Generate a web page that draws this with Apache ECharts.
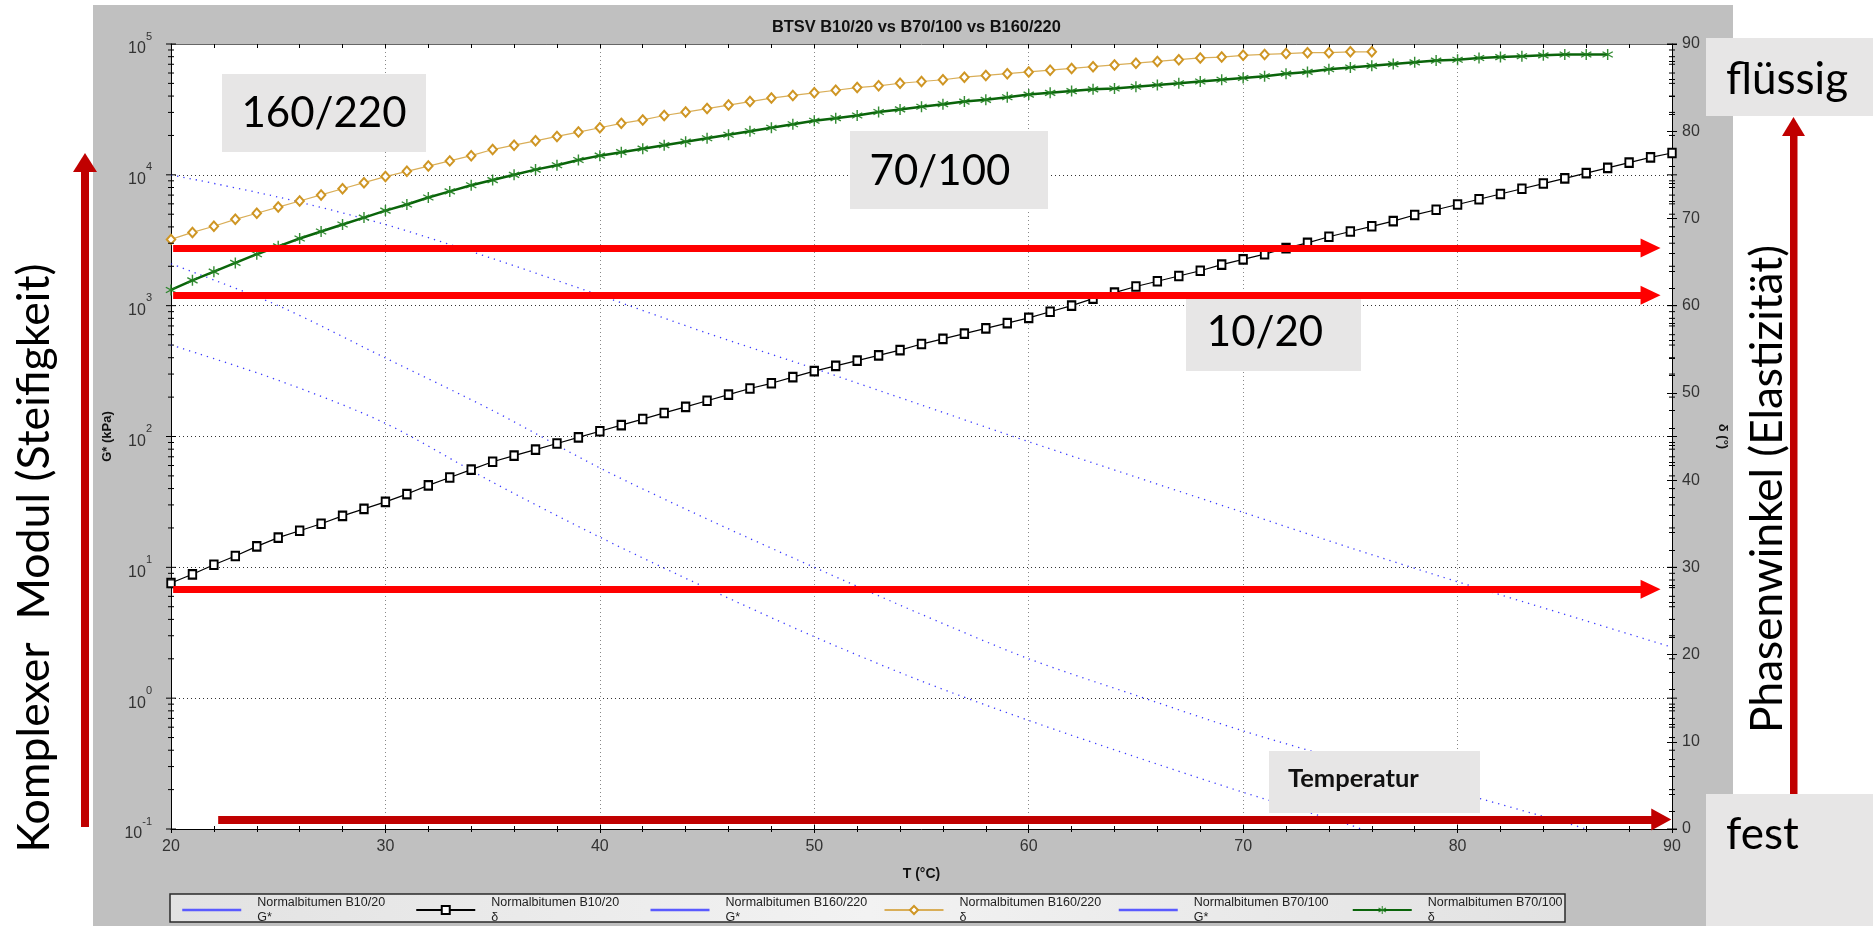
<!DOCTYPE html>
<html>
<head>
<meta charset="utf-8">
<script src="https://cdn.jsdelivr.net/npm/echarts@6/dist/echarts.min.js"></script>
<style>
  html, body { margin: 0; padding: 0; background: #ffffff; }
  #chart { width: 1873px; height: 926px; }
</style>
</head>
<body>
<div id="chart"></div>
<script>
// Temperature grid of the phase-angle sweeps (°C)
const tempC = [20,21,22,23,24,25,26,27,28,29,30,31,32,33,34,35,36,37,38,39,40,41,42,43,44,45,46,47,48,49,50,
  51,52,53,54,55,56,57,58,59,60,61,62,63,64,65,66,67,68,69,70,71,72,73,74,75,76,77,78,79,80,81,82,83,84,85,86,87,88,89,90];

// Phase angle δ (°) per binder, one value per entry of tempC
const deltaB1020 = [28.2,29.2,30.3,31.3,32.4,33.4,34.2,35.0,35.9,36.7,37.5,38.4,39.4,40.3,41.2,42.1,42.8,43.5,44.2,44.9,
  45.6,46.3,47.0,47.7,48.4,49.1,49.8,50.5,51.1,51.8,52.5,53.1,53.7,54.3,54.9,55.6,56.2,56.8,57.4,58.0,
  58.6,59.3,60.0,60.8,61.5,62.2,62.8,63.4,64.0,64.7,65.3,65.9,66.6,67.2,67.9,68.5,69.1,69.7,70.4,71.0,
  71.6,72.2,72.8,73.4,74.0,74.6,75.2,75.8,76.4,77.0,77.5];
const deltaB160220 = [67.6,68.4,69.1,69.9,70.6,71.3,72.0,72.7,73.4,74.1,74.8,75.4,76.0,76.6,77.2,77.9,78.4,78.9,79.4,79.9,
  80.4,80.9,81.3,81.8,82.2,82.6,83.0,83.4,83.8,84.1,84.4,84.7,85.0,85.2,85.5,85.7,85.9,86.2,86.4,86.6,
  86.8,87.0,87.2,87.4,87.6,87.8,88.0,88.2,88.4,88.5,88.7,88.8,88.9,89.0,89.0,89.1,89.1];
const deltaB70100 = [61.8,62.9,63.9,64.9,65.9,66.8,67.7,68.5,69.3,70.1,70.9,71.6,72.4,73.1,73.8,74.4,75.0,75.6,76.1,76.7,
  77.2,77.6,78.0,78.4,78.8,79.2,79.6,80.0,80.4,80.8,81.2,81.5,81.8,82.2,82.5,82.8,83.1,83.4,83.6,83.9,
  84.2,84.4,84.6,84.8,84.9,85.1,85.3,85.5,85.7,85.9,86.1,86.3,86.6,86.8,87.1,87.3,87.5,87.7,87.9,88.1,
  88.2,88.4,88.5,88.6,88.7,88.8,88.8,88.8];

// Complex modulus G* (kPa)
const gTempB1020 = [20,25,30,35,40,45,50,55,60,65,70,75,80,85,90];
const gB1020 = [10000,6760,4170,2290,1200,617,331,174,91.2,49.0,26.3,14.1,7.76,4.37,2.45];
const gTempB70100 = [20,25,30,35,40,45,50,55,60,65,70,75,80,85,86];
const gB70100 = [2090,1000,398,158,57.5,23.4,10.0,4.37,2.00,1.05,0.562,0.324,0.191,0.112,0.100];
const gTempB160220 = [20,25,30,35,40,45,50,55,60,65,70,75,75.5];
const gB160220 = [501,269,126,44.7,17.0,6.92,2.95,1.35,0.676,0.355,0.191,0.107,0.100];

// Phase-angle levels marked by the horizontal arrows (°)
const arrowLevels = [66.6, 61.2, 27.5];
const tempArrowLevel = 1.1;

const seriesNames = [
  'Normalbitumen B10/20 G*', 'Normalbitumen B10/20 δ',
  'Normalbitumen B160/220 G*', 'Normalbitumen B160/220 δ',
  'Normalbitumen B70/100 G*', 'Normalbitumen B70/100 δ'
];

const pair = (xs, ys) => ys.map((v, i) => [xs[i], v]);

// decade and in-between tick positions of the logarithmic G* axis
const logTicks = [];
for (let e = -1; e <= 5; e++) {
  for (let k = 1; k <= (e === 5 ? 1 : 9); k++) {
    logTicks.push([20, +(k * Math.pow(10, e)).toPrecision(3), k === 1 ? 1 : 0]);
  }
}

const asterisk = 'path://M4.4 0L5.6 0L5.6 10L4.4 10ZM0.97 1.98L9.63 6.98L9.03 8.02L0.37 3.02ZM9.63 3.02L0.97 8.02L0.37 6.98L9.03 1.98Z';

const FONT = 'Liberation Sans';
const SLIDE = 'Lato, Carlito, sans-serif';
const BLUE = '#1a1aff';

const chart = echarts.init(document.getElementById('chart'), null, { renderer: 'canvas' });

const gLine = (name, xs, ys) => ({
  name, type: 'line', yAxisIndex: 0, z: 2,
  data: pair(xs, ys), symbol: 'none', smooth: 0.3,
  lineStyle: { color: BLUE, width: 1.3, type: [1.3, 5], opacity: 0.85 },
  itemStyle: { color: BLUE }
});

const gLegend = name => ({
  name,
  itemStyle: { opacity: 0 },
  lineStyle: { type: 'solid', width: 2.5, color: '#5a5aff', opacity: 1 }
});

const option = {
  animation: false,
  backgroundColor: '#ffffff',
  title: {
    text: 'BTSV B10/20 vs B70/100 vs B160/220',
    left: 767, top: 14,
    textStyle: { fontFamily: FONT, fontWeight: 'bold', fontSize: 16.4, color: '#111' }
  },
  grid: { left: 171, right: 201, top: 44, bottom: 97, show: true, backgroundColor: '#ffffff', borderWidth: 0 },
  legend: {
    left: 176, top: 890,
    itemWidth: 59, itemHeight: 10, itemGap: 8,
    selectedMode: false,
    formatter: n => n.replace(/ (G\*|δ)$/, '\n$1'),
    textStyle: { fontFamily: FONT, fontSize: 12.5, lineHeight: 15, color: '#222', width: 150, padding: [0, 0, 0, 11] },
    data: [
      gLegend(seriesNames[0]),
      { name: seriesNames[1] },
      gLegend(seriesNames[2]),
      { name: seriesNames[3] },
      gLegend(seriesNames[4]),
      { name: seriesNames[5] }
    ]
  },
  xAxis: [
    {
      type: 'value', min: 20, max: 90, interval: 10, position: 'bottom',
      name: 'T (°C)', nameLocation: 'middle', nameGap: 38,
      nameTextStyle: { fontFamily: FONT, fontWeight: 'bold', fontSize: 14, color: '#111' },
      axisLine: { lineStyle: { color: '#000', width: 1 } },
      axisTick: { length: 4, lineStyle: { color: '#000' } },
      minorTick: { show: true, splitNumber: 5, length: 3, lineStyle: { color: '#000' } },
      axisLabel: { margin: 10, fontFamily: FONT, fontSize: 16, color: '#333' },
      splitLine: { show: true, lineStyle: { color: '#888', type: [1, 3], width: 1 } }
    },
    {
      type: 'value', min: 20, max: 90, interval: 10, position: 'bottom',
      axisLine: { show: false },
      axisTick: { inside: true, length: 4, lineStyle: { color: '#000' } },
      minorTick: { show: true, splitNumber: 5, length: 3, lineStyle: { color: '#000' } },
      axisLabel: { show: false }, splitLine: { show: false }
    },
    {
      type: 'value', min: 20, max: 90, interval: 10, position: 'top',
      axisLine: { show: true, lineStyle: { color: '#666', width: 1 } },
      axisTick: { inside: true, length: 4, lineStyle: { color: '#000' } },
      minorTick: { show: true, splitNumber: 5, length: 4, lineStyle: { color: '#000' } },
      axisLabel: { show: false }, splitLine: { show: false }
    }
  ],
  yAxis: [
    {
      type: 'log', logBase: 10, min: 0.1, max: 100000, splitNumber: 6, position: 'left',
      name: 'G* (kPa)', nameLocation: 'middle', nameRotate: 90, nameGap: 56,
      nameTextStyle: { fontFamily: FONT, fontWeight: 'bold', fontSize: 13, color: '#111' },
      axisLine: { show: true, lineStyle: { color: '#000', width: 1 } },
      axisTick: { show: false },
      axisLabel: {
        margin: 19, fontFamily: FONT, fontSize: 16, color: '#333',
        formatter: v => '{b|10}{s|' + Math.round(Math.log10(v)) + '}',
        rich: {
          b: { fontFamily: FONT, fontSize: 16, color: '#333', lineHeight: 26, verticalAlign: 'bottom' },
          s: { fontFamily: FONT, fontSize: 11, color: '#333', lineHeight: 12, verticalAlign: 'top' }
        }
      },
      splitLine: { show: true, lineStyle: { color: '#333', type: [1, 3], width: 1 } }
    },
    {
      type: 'value', min: 0, max: 90, interval: 10, position: 'right',
      name: 'δ (°)', nameLocation: 'middle', nameRotate: -90, nameGap: 44,
      nameTextStyle: { fontFamily: FONT, fontWeight: 'bold', fontSize: 13, color: '#111' },
      axisLine: { show: true, lineStyle: { color: '#000', width: 1 } },
      axisTick: { length: 5, lineStyle: { color: '#000' } },
      minorTick: { show: true, splitNumber: 5, length: 3, lineStyle: { color: '#000' } },
      axisLabel: { margin: 10, fontFamily: FONT, fontSize: 16, color: '#333' },
      splitLine: { show: false }
    },
    {
      type: 'value', min: 0, max: 90, interval: 10, position: 'right',
      axisLine: { show: false },
      axisTick: { inside: true, length: 5, lineStyle: { color: '#000' } },
      minorTick: { show: true, splitNumber: 5, length: 3, lineStyle: { color: '#000' } },
      axisLabel: { show: false }, splitLine: { show: false }
    }
  ],
  series: [
    // ticks of the logarithmic axis, on both plot edges
    {
      type: 'custom', yAxisIndex: 0, silent: true, clip: false, z: 4,
      encode: { x: 0, y: 1 },
      data: logTicks,
      renderItem: (params, api) => {
        const l = api.coord([20, api.value(1)]);
        const r = api.coord([90, api.value(1)]);
        const len = api.value(2) ? 5 : 3;
        const st = { stroke: '#000', lineWidth: 1 };
        return {
          type: 'group', children: [
            { type: 'line', shape: { x1: l[0] - len, y1: l[1], x2: l[0] + len, y2: l[1] }, style: st },
            { type: 'line', shape: { x1: r[0] - len, y1: r[1], x2: r[0] + len, y2: r[1] }, style: st }
          ]
        };
      }
    },
    gLine(seriesNames[0], gTempB1020, gB1020),
    {
      name: seriesNames[1], type: 'line', yAxisIndex: 1, z: 3,
      data: pair(tempC, deltaB1020),
      symbol: 'emptyRect', symbolSize: [7.5, 8.5],
      itemStyle: { color: '#000', borderWidth: 1.3 },
      lineStyle: { color: '#000', width: 1.2 }
    },
    gLine(seriesNames[2], gTempB160220, gB160220),
    {
      name: seriesNames[3], type: 'line', yAxisIndex: 1, z: 3,
      data: pair(tempC, deltaB160220),
      symbol: 'emptyDiamond', symbolSize: [8.5, 9.5],
      itemStyle: { color: '#cf9624', borderWidth: 1.2 },
      lineStyle: { color: '#d9ae58', width: 1.2 }
    },
    gLine(seriesNames[4], gTempB70100, gB70100),
    {
      name: seriesNames[5], type: 'line', yAxisIndex: 1, z: 3,
      data: pair(tempC, deltaB70100),
      symbol: asterisk, symbolSize: 11,
      itemStyle: { color: '#1f7f1f', opacity: 0.9 },
      lineStyle: { color: '#0a640a', width: 2.5 }
    },
    // horizontal arrows marking phase-angle levels and the temperature direction
    {
      type: 'line', yAxisIndex: 1, z: 6, data: [], silent: true,
      markLine: {
        silent: true, animation: false,
        symbol: ['none', 'triangle'], symbolSize: [19, 20],
        label: { show: false },
        emphasis: { disabled: true },
        lineStyle: { color: '#ff0000', width: 7, type: 'solid', opacity: 1 },
        data: arrowLevels.map(lv => [{ coord: [20.1, lv] }, { coord: [89.0, lv] }]).concat([[
          { coord: [22.2, tempArrowLevel], lineStyle: { color: '#c00000', width: 8, type: 'solid', opacity: 1 } },
          { coord: [89.5, tempArrowLevel], symbolSize: [22, 20] }
        ]])
      }
    }
  ],
  graphic: [
    // grey frame behind the chart
    { type: 'rect', z: -10, shape: { x: 93, y: 5, width: 1640, height: 921 }, style: { fill: '#c0c0c0' } },
    // legend frame
    {
      type: 'rect', z: 1, shape: { x: 170, y: 894, width: 1395, height: 28 },
      style: {
        fill: new echarts.graphic.LinearGradient(0, 0, 1, 0, [
          { offset: 0, color: '#e2e2e2' }, { offset: 0.5, color: '#f2f2f2' }, { offset: 1, color: '#e2e2e2' }
        ]),
        stroke: '#2a2a2a', lineWidth: 1.5
      }
    },
    // binder labels
    { type: 'rect', z: 50, shape: { x: 222, y: 74, width: 204, height: 78 }, style: { fill: '#e7e6e6' } },
    { type: 'text', z: 51, x: 324, y: 113, style: { text: '160/220', font: '42px ' + SLIDE, fill: '#000', textAlign: 'center', textVerticalAlign: 'middle' } },
    { type: 'rect', z: 50, shape: { x: 850, y: 131, width: 198, height: 78 }, style: { fill: '#e7e6e6' } },
    { type: 'text', z: 51, x: 940, y: 171, style: { text: '70/100', font: '42px ' + SLIDE, fill: '#000', textAlign: 'center', textVerticalAlign: 'middle' } },
    { type: 'rect', z: 50, shape: { x: 1186, y: 299, width: 175, height: 72 }, style: { fill: '#e7e6e6' } },
    { type: 'text', z: 51, x: 1265, y: 332, style: { text: '10/20', font: '42px ' + SLIDE, fill: '#000', textAlign: 'center', textVerticalAlign: 'middle' } },
    { type: 'rect', z: 50, shape: { x: 1269, y: 751, width: 211, height: 62 }, style: { fill: '#e7e6e6' } },
    { type: 'text', z: 51, x: 1288, y: 779, style: { text: 'Temperatur', font: 'bold 25.5px ' + SLIDE, fill: '#111', textAlign: 'left', textVerticalAlign: 'middle' } },
    // state labels
    { type: 'rect', z: 50, shape: { x: 1706, y: 38, width: 167, height: 78 }, style: { fill: '#e7e6e6' } },
    { type: 'text', z: 51, x: 1726, y: 80, style: { text: 'flüssig', font: '44px ' + SLIDE, fill: '#000', textAlign: 'left', textVerticalAlign: 'middle' } },
    { type: 'rect', z: 50, shape: { x: 1706, y: 794, width: 167, height: 132 }, style: { fill: '#e7e6e6' } },
    { type: 'text', z: 51, x: 1726, y: 835, style: { text: 'fest', font: '44px ' + SLIDE, fill: '#000', textAlign: 'left', textVerticalAlign: 'middle' } },
    // vertical arrows
    { type: 'rect', z: 50, shape: { x: 81, y: 170, width: 8, height: 657 }, style: { fill: '#c00000' } },
    { type: 'polygon', z: 50, shape: { points: [[85, 153], [97, 172], [73, 172]] }, style: { fill: '#c00000' } },
    { type: 'rect', z: 50, shape: { x: 1790, y: 134, width: 7.5, height: 660 }, style: { fill: '#c00000' } },
    { type: 'polygon', z: 50, shape: { points: [[1793.5, 117], [1805, 136], [1782, 136]] }, style: { fill: '#c00000' } },
    // side captions
    { type: 'text', z: 51, x: 35, y: 558, rotation: Math.PI / 2, style: { text: 'Komplexer  Modul (Steifigkeit)', font: '44.7px ' + SLIDE, fill: '#000', textAlign: 'center', textVerticalAlign: 'middle' } },
    { type: 'text', z: 51, x: 1768, y: 489, rotation: Math.PI / 2, style: { text: 'Phasenwinkel (Elastizität)', font: '44.2px ' + SLIDE, fill: '#000', textAlign: 'center', textVerticalAlign: 'middle' } }
  ]
};

chart.setOption(option);
</script>
</body>
</html>
